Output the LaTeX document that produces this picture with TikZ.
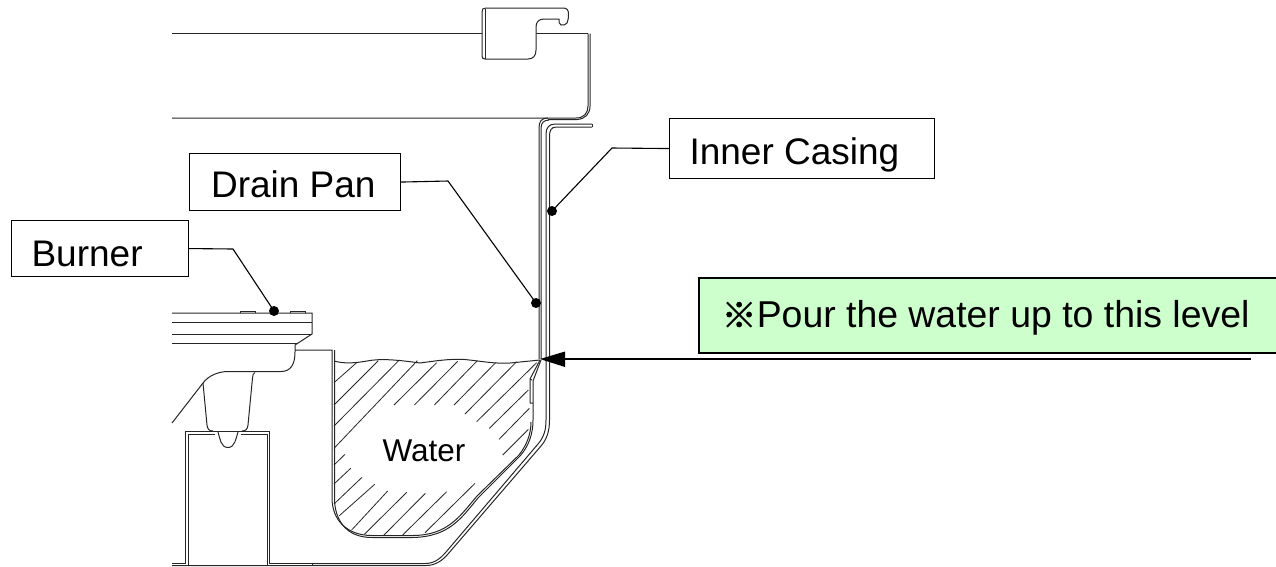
\documentclass[tikz,border=0pt]{standalone}
\usepackage{fontspec}
\setmainfont{Liberation Sans}
\newfontfamily\cjkjp[FakeBold=1.5,Scale=0.93]{Noto Sans CJK JP}
\tikzset{
  part/.style={line width=1pt,black!85},
  hatchline/.style={line width=0.8pt,black!85},
  leader/.style={line width=1.1pt,black},
  dotmark/.style={circle,fill=black,inner sep=0pt,minimum size=10pt},
  tag/.style={draw=black,line width=1.1pt,inner sep=0pt,anchor=north west,
    font=\fontsize{37}{40}\selectfont},
}
\begin{document}
\begin{tikzpicture}[x=1pt,y=-1pt]
\useasboundingbox (0,0) rectangle (1276,566);
% upper casing and clip
\draw[part] (172,33.5) -- (482,33.5);
\draw[part] (536,33.5) -- (588,33.5);
\draw[part] (172,118) -- (576,118) .. controls (584,118) and (588,113) .. (588,106) -- (588,33.5);
\draw[part] (590,33.5) -- (590,106) .. controls (590,114) and (585,119) .. (577,119.5) -- (548,119.5);
\draw[part,fill=white] (482,12) .. controls (482,9) and (483,8) .. (486,8) -- (563,8)
  .. controls (567,8) and (568.5,10) .. (568.5,14) .. controls (568.5,18) and (568,21) .. (567,23)
  .. controls (566,25) and (563,25.5) .. (561,25) .. controls (559,24) and (559,22) .. (559,19)
  -- (544,19) .. controls (539,19) and (536,22) .. (536,27) -- (536,50)
  .. controls (536,56) and (533,59) .. (528,59) -- (485,59) .. controls (483,59) and (482,58) .. (482,56) -- cycle;
\draw[part] (485,9) -- (485,59);
% inner walls
\draw[part] (539,359) -- (539,128) .. controls (539,122) and (541,118) .. (548,118);
\draw[part] (541,359) -- (541,128) .. controls (541,123) and (544,120) .. (549,120);
\draw[part] (592,124) -- (555,124) .. controls (549,124) and (546,128) .. (546,134) -- (546,420)
  .. controls (546,430) and (544,437) .. (538,444) -- (446,552) .. controls (440,559) and (434,563.5) .. (425,563.5) -- (312,563.5);
\draw[part] (592,127) -- (556,127) .. controls (551,127) and (549.5,131) .. (549.5,136) -- (549.5,420)
  .. controls (549.5,431) and (547,439) .. (541,446) -- (448,554) .. controls (442,561) and (435,565.5) .. (426,565.5) -- (172,565.5);
\draw[part] (592,124) -- (592,127);
% drain pan
\draw[part] (540,360) -- (530,379) -- (530,403);
\draw[part] (541,360) -- (533,381) -- (533,420) .. controls (533,435) and (528,447) .. (520,456)
  -- (478,498) .. controls (462,517) and (450,537) .. (412,537.5) -- (372,537.5) .. controls (346,537.5) and (334.5,520) .. (334.5,498) -- (334.5,350);
\draw[part] (532,380) -- (530,379) (530,403) -- (533,403);
\draw[part] (531,422) .. controls (531,435) and (526,446) .. (519,455)
  -- (477,496) .. controls (460,516) and (448,535.5) .. (412,535.5) -- (372,535.5) .. controls (347,535.5) and (332,520) .. (332,498) -- (332,350) -- (295,350);
% water surface
\draw[part] (334,361) .. controls (345,364) and (355,363) .. (367,361) .. controls (380,358.5) and (395,359.5) .. (420,363)
  .. controls (435,361) and (450,358.5) .. (465,359.5) .. controls (480,361) and (495,364) .. (510,363) -- (540,360);
% hatching (coordinates read from the reference)
\foreach \a/\b/\c/\d in {
 42/128/110/68, 42/195/175/62, 42/258/238/60, 42/325/292/62,
 222/195/350/68, 283/195/413/64, 343/195/472/62, 402/195/527/68,
 435/222/590/65, 470/245/650/68, 508/265/625/150, 537/298/628/205, 548/345/625/268,
 42/375/75/343, 42/432/92/385, 42/492/126/412, 58/527/164/433,
 95/570/203/453, 133/583/260/457, 190/587/316/460, 248/585/380/455, 315/578/465/430}
 \draw[hatchline] ({320+\a/3},{340+\b/3}) -- ({320+\c/3},{340+\d/3});
% burner
\draw[part] (172,313) -- (312,313) -- (312,334) -- (295,345) -- (295,352)
  .. controls (295,364) and (291,371.5) .. (281,371.5) -- (228,371.5)
  .. controls (218,371.5) and (208,376) .. (203,383) -- (172,423);
\draw[part] (172,322) -- (312,322) (172,334) -- (312,334) (172,343) -- (298,343);
\draw[part] (240,313) -- (240,311) -- (255,311) -- (255,313);
\draw[part] (290,313) -- (290,311) -- (305,311) -- (305,313);
\draw[part] (203,383) -- (207,425) .. controls (207.5,429) and (209,431) .. (213,431);
\draw[part] (255,372.5) .. controls (253,373) and (253,375) .. (252.5,378) -- (248,425) .. controls (247.5,429) and (246,431) .. (242,431);
\draw[part] (213,431) -- (242,431);
% support box
\draw[part] (172,563) -- (185.5,563) -- (185.5,431) -- (269,431) -- (269,563) -- (312,563) -- (312,565.5);
\draw[part] (188.5,565.5) -- (188.5,434) -- (215,434);
\draw[part] (241,434) -- (267,434) -- (267,565.5);
\draw[part] (218,432) .. controls (220,438) and (220.5,447.5) .. (228,447.5) .. controls (235,447.5) and (236,438) .. (238,432);
% labels
\node[tag,text height=46pt,text depth=14pt] (casing) at (669,118) {\makebox[265pt][l]{\hspace{20pt}Inner Casing}};
\node[tag,text height=44pt,text depth=13pt] (pan) at (189,153) {\makebox[211pt][l]{\hspace{21.5pt}Drain Pan}};
\node[tag,text height=46pt,text depth=10pt] (burner) at (11,220) {\makebox[177pt][l]{\hspace{20pt}Burner}};
\node[tag,fill=green!20,line width=1.5pt,text height=50pt,text depth=25pt,font=\fontsize{37.4}{40}\selectfont] (pour) at (698,277) {\makebox[578pt][l]{\hspace{23pt}\makebox[35pt][l]{\cjkjp ※}Pour the water up to this level}};
\node[anchor=base,inner sep=0pt,font=\fontsize{31.5}{34}\selectfont] (water) at (424,461) {Water};
% leaders
\node[dotmark] (dcasing) at (552,211) {};
\node[dotmark] (dpan) at (536,303) {};
\node[dotmark] (dburner) at (274,311) {};
\coordinate (bcasing) at (612,148);
\coordinate (bpan) at (448,181);
\coordinate (bburner) at (233,249);
\draw[leader] (casing.west) -- (bcasing) -- (dcasing.center);
\draw[leader] (pan.east) -- (bpan) -- (dpan.center);
\draw[leader] (burner.east) -- (bburner) -- (dburner.center);
% level arrow
\coordinate (lvlstart) at (1251,359);
\coordinate (lvltip) at (540,359);
\coordinate (lvlbase) at (565,359);
\draw[line width=1.3pt] (lvlstart) -- (lvlbase);
\fill (lvltip) -- (565,351.5) -- (565,367) -- cycle;
\end{tikzpicture}
\end{document}
